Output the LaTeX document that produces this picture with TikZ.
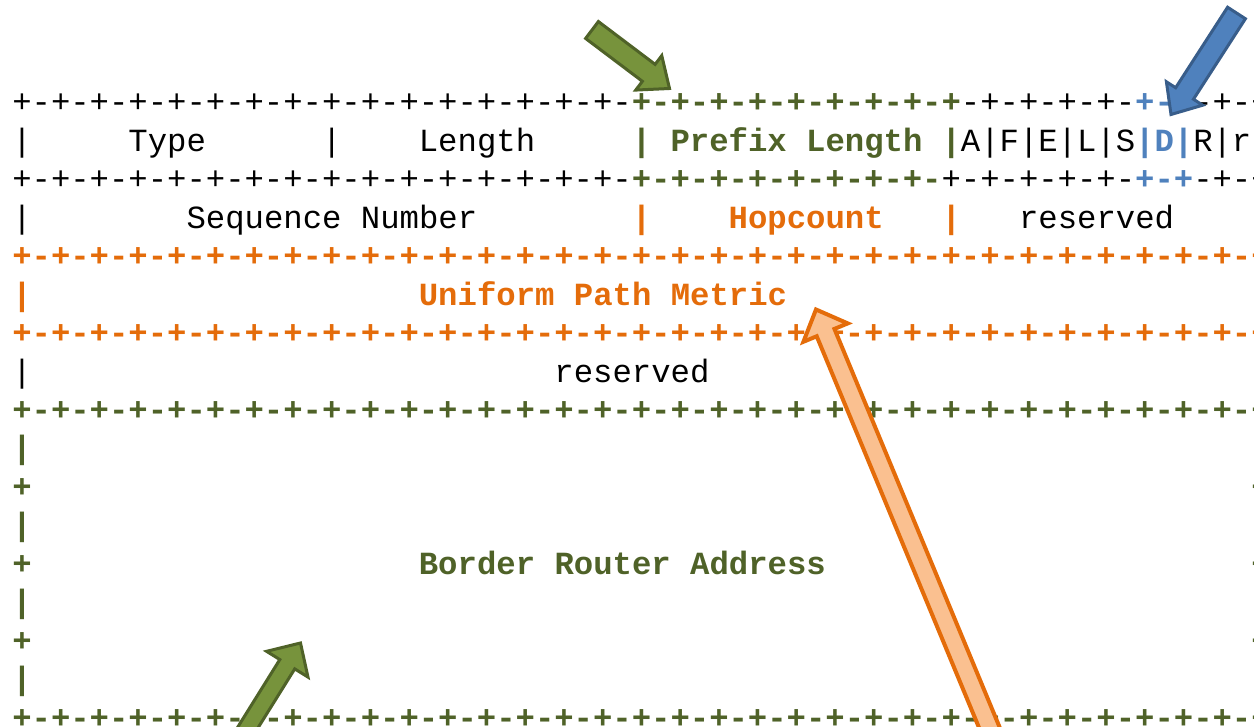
\documentclass[tikz,border=0pt]{standalone}
\usepackage{fontspec}
\newfontfamily\pktfont{Liberation Mono}
\usetikzlibrary{calc}

\definecolor{grntxt}{HTML}{4F6228}
\definecolor{grnfill}{HTML}{77933C}
\definecolor{orgtxt}{HTML}{E46C0A}
\definecolor{orgfill}{HTML}{FAC090}
\definecolor{blutxt}{HTML}{4F81BD}
\definecolor{bluline}{HTML}{385D8A}

\newcommand{\pktsize}{\pktfont\fontsize{16.15pt}{19.2pt}\selectfont}

% one +-+- run of the ruler, from column #2 to #3 in row #1
\newcommand{\dashrow}[4]{%
  \foreach \c in {#2,...,#3}{%
    \ifodd\c\relax \node[#4] (r#1c\c) at (\c,#1) {-};%
    \else \node[#4] (r#1c\c) at (\c,#1) {+};\fi}}

% block arrow: style, tail, tip, half shaft, half head, head length
\newcommand{\fatarrow}[6]{%
  \coordinate (fah) at ($(#3)!#6!(#2)$);
  \draw[#1] ($(#2)!#4!90:(#3)$) -- ($(fah)!#4!-90:(#2)$) -- ($(fah)!#5!-90:(#2)$) -- (#3)
    -- ($(fah)!#5!90:(#2)$) -- ($(fah)!#4!90:(#2)$) -- ($(#2)!#4!-90:(#3)$) -- cycle;}

\tikzset{
  chr/.style={anchor=base west, inner sep=0pt, outer sep=0pt, font=\pktsize},
  blk/.style={chr, text=black},
  grn/.style={chr, text=grntxt, font=\pktsize\bfseries},
  org/.style={chr, text=orgtxt, font=\pktsize\bfseries},
  blu/.style={chr, text=blutxt, font=\pktsize\bfseries},
  grnarrow/.style={fill=grnfill, draw=grntxt, line width=1.5pt},
  bluarrow/.style={fill=blutxt, draw=bluline, line width=1.5pt},
  orgarrow/.style={fill=orgfill, draw=orgtxt, line width=2pt},
}

\begin{document}
\begin{tikzpicture}[x=0.5pt, y=-0.5pt]

\useasboundingbox (0,0) rectangle (1254,727);
\clip (0,0) rectangle (1254,727);

\begin{scope}[shift={(12.3,113)}, x=9.68pt, y=-19.22pt]

% row 0
\dashrow{0}{0}{31}{blk}
\dashrow{0}{32}{48}{grn}
\dashrow{0}{49}{57}{blk}
\dashrow{0}{58}{60}{blu}
\dashrow{0}{61}{64}{blk}

% row 1
\node[blk] (r1c0) at (0,1) {|};
\node[blk] (type) at (6,1) {Type};
\node[blk] (r1c16) at (16,1) {|};
\node[blk] (length) at (21,1) {Length};
\node[grn] (r1c32) at (32,1) {|};
\node[grn] (prefixlen) at (34,1) {Prefix Length};
\node[grn] (r1c48) at (48,1) {|};
\foreach \c/\t in {49/A,50/|,51/F,52/|,53/E,54/|,55/L,56/|,57/S}
  \node[blk] (r1c\c) at (\c,1) {\t};
\foreach \c/\t in {58/|,59/D,60/|}
  \node[blu] (r1c\c) at (\c,1) {\t};
\foreach \c/\t in {61/R,62/|,63/r,64/|}
  \node[blk] (r1c\c) at (\c,1) {\t};

% row 2
\dashrow{2}{0}{31}{blk}
\dashrow{2}{32}{47}{grn}
\dashrow{2}{48}{57}{blk}
\dashrow{2}{58}{60}{blu}
\dashrow{2}{61}{64}{blk}

% row 3
\node[blk] (r3c0) at (0,3) {|};
\node[blk] (seqnum) at (9,3) {Sequence Number};
\node[org] (r3c32) at (32,3) {|};
\node[org] (hopcount) at (37,3) {Hopcount};
\node[org] (r3c48) at (48,3) {|};
\node[blk] (resv1) at (52,3) {reserved};
\node[blk] (r3c64) at (64,3) {|};

% rows 4-6
\dashrow{4}{0}{64}{org}
\node[org] (r5c0) at (0,5) {|};
\node[org] (upm) at (21,5) {Uniform Path Metric};
\node[org] (r5c64) at (64,5) {|};
\dashrow{6}{0}{64}{org}

% rows 7-8
\node[blk] (r7c0) at (0,7) {|};
\node[blk] (resv2) at (28,7) {reserved};
\node[blk] (r7c64) at (64,7) {|};
\dashrow{8}{0}{64}{grn}

% rows 9-16
\foreach \r in {9,11,13,15} {
  \node[grn] (r\r c0) at (0,\r) {|};
  \node[grn] (r\r c64) at (64,\r) {|};
}
\foreach \r in {10,12,14} {
  \node[grn] (r\r c0) at (0,\r) {+};
  \node[grn] (r\r c64) at (64,\r) {+};
}
\node[grn] (braddr) at (21,12) {Border Router Address};
\dashrow{16}{0}{64}{grn}

\end{scope}

% pointers
\coordinate (pltail) at (592,30);
\coordinate (pltip) at (669.5,88.5);
\fatarrow{grnarrow}{pltail}{pltip}{5.3pt}{10.8pt}{13pt}

\coordinate (dtail) at (1236.5,13);
\coordinate (dtip) at (1171,114.5);
\fatarrow{bluarrow}{dtail}{dtip}{5.3pt}{10.8pt}{12.5pt}

\coordinate (upmtail) at (1014,787);
\coordinate (upmtip) at (816,309.5);
\fatarrow{orgarrow}{upmtail}{upmtip}{4.8pt}{12pt}{12.5pt}

\coordinate (brtail) at (227.8,759.7);
\coordinate (brtip) at (300.5,643);
\fatarrow{grnarrow}{brtail}{brtip}{4.4pt}{12.2pt}{12.5pt}

\end{tikzpicture}
\end{document}
